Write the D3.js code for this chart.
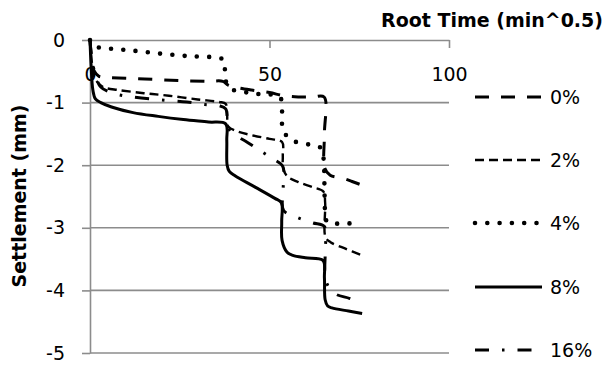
<!DOCTYPE html>
<html>
<head>
<meta charset="utf-8">
<script src="https://cdn.jsdelivr.net/npm/d3@7"></script>
<style>
  html, body { margin: 0; padding: 0; background: #fff; }
  svg { display: block; }
  text { font-family: "DejaVu Sans", sans-serif; fill: #000; }
</style>
</head>
<body>
<svg id="chart" width="606" height="365"></svg>
<script>
// ---- data (root time in min^0.5, settlement in mm) ----
const seriesNames = ["0%", "2%", "4%", "8%", "16%"];
const xTicks = [0, 50, 100];
const xTickLabels = ["0", "50", "100"];
const yTicks = [0, -1, -2, -3, -4, -5];
const yTickLabels = ["0", "-1", "-2", "-3", "-4", "-5"];

const s0 = [[0,0],[0.5,-0.3],[1.2,-0.5],[2.5,-0.58],[5,-0.6],[10,-0.61],[18,-0.63],[26,-0.65],[33,-0.66],[37,-0.66],[38.5,-0.72],[41,-0.76],[45,-0.8],[50,-0.84],[54,-0.89],[58,-0.91],[62,-0.91],[65.2,-0.91],[65.3,-1.5],[65.4,-2.05],[66.9,-2.16],[70.5,-2.21],[73,-2.26],[75.8,-2.32]];
const s2 = [[0,0],[0.5,-0.35],[1.2,-0.6],[2.5,-0.7],[4,-0.76],[8,-0.8],[15,-0.85],[22,-0.89],[30,-0.95],[36,-0.99],[37.8,-1.02],[38.2,-1.2],[38.5,-1.38],[41,-1.46],[45,-1.52],[50,-1.58],[53.5,-1.63],[53.7,-1.85],[53.8,-2.05],[55,-2.18],[58,-2.27],[62,-2.35],[65,-2.42],[65.5,-2.6],[65.6,-3.15],[67,-3.23],[71,-3.33],[75.8,-3.44]];
const s4 = [[0,0],[0.8,-0.08],[2.5,-0.12],[6,-0.14],[12,-0.17],[20,-0.22],[28,-0.26],[35,-0.28],[37.3,-0.32],[37.6,-0.5],[38,-0.68],[40,-0.8],[44,-0.84],[48,-0.87],[52,-0.88],[53.3,-0.95],[53.5,-1.2],[53.6,-1.4],[54.6,-1.52],[57,-1.62],[61,-1.67],[64.2,-1.72],[65,-1.87],[65.3,-2.3],[65.5,-2.75],[66,-2.9],[68,-2.93],[72,-2.93],[75.5,-2.93]];
const s8 = [[0,0],[0.3,-0.4],[0.8,-0.8],[1.5,-0.94],[3,-1.0],[6,-1.07],[12,-1.16],[19,-1.22],[26,-1.27],[33,-1.31],[37.8,-1.34],[38.1,-1.6],[38.2,-2.0],[38.8,-2.1],[40.4,-2.17],[46,-2.35],[51.5,-2.53],[53.3,-2.6],[53.4,-2.9],[53.5,-3.2],[54.9,-3.39],[56.5,-3.44],[60,-3.48],[64.9,-3.52],[65.3,-3.8],[65.5,-4.15],[66.2,-4.25],[67.4,-4.28],[72,-4.33],[75.8,-4.37]];
const s16 = [[0,0],[0.5,-0.3],[1.5,-0.55],[3,-0.75],[7,-0.86],[12,-0.91],[20,-0.96],[27,-0.99],[32,-1.03],[36,-1.05],[37.8,-1.1],[38.3,-1.3],[39,-1.45],[44,-1.64],[48,-1.79],[51,-1.9],[53.7,-2.02],[53.8,-2.4],[53.9,-2.72],[57.5,-2.83],[62,-2.92],[65.3,-2.98],[65.5,-3.4],[65.7,-3.85],[68.2,-4.05],[72.4,-4.13],[75.8,-4.22]];
const seriesData = [s0, s2, s4, s8, s16];

// ---- styles ----
const styles = [
  { dash: "14,12", width: 3, cap: "butt" },
  { dash: "9,5", width: 2.4, cap: "butt" },
  { dash: "0,12.3", width: 4.6, cap: "round" },
  { dash: null, width: 3, cap: "butt" },
  { dash: "14,13,2.5,13", width: 3, cap: "butt" }
];

const svg = d3.select("#chart");
const x = d3.scaleLinear().domain([0, 100]).range([90, 449]);
const y = d3.scaleLinear().domain([0, -5]).range([40, 353]);
const gridColor = "#8c8c8c";

// gridlines
svg.append("g").selectAll("line").data(yTicks.slice(1)).join("line")
  .attr("x1", x(0)).attr("x2", x(100))
  .attr("y1", d => y(d)).attr("y2", d => y(d))
  .attr("stroke", gridColor).attr("stroke-width", 1.6);

// y axis
const yAxis = d3.axisLeft(y).tickValues(yTicks)
  .tickFormat((d, i) => yTickLabels[i]).tickSize(8).tickSizeOuter(0).tickPadding(17);
const gy = svg.append("g").attr("transform", `translate(${x(0)},0)`).call(yAxis);
gy.selectAll("path,line").attr("stroke", gridColor).attr("stroke-width", 1.6);
gy.selectAll("text").style("font-size", "19px").style("font-family", "DejaVu Sans").attr("fill", "#000");

// x axis (at settlement 0, labels below)
const xAxis = d3.axisBottom(x).tickValues(xTicks)
  .tickFormat((d, i) => xTickLabels[i]).tickSize(8).tickSizeOuter(0).tickPadding(20);
const gx = svg.append("g").attr("transform", `translate(0,${y(0)})`).call(xAxis);
gx.selectAll("path,line").attr("stroke", gridColor).attr("stroke-width", 1.6);
gx.selectAll("text").style("font-size", "19px").style("font-family", "DejaVu Sans").attr("fill", "#000");

// series
const line = d3.line().x(d => x(d[0])).y(d => y(d[1])).curve(d3.curveCatmullRom.alpha(0.5));
seriesData.forEach((data, i) => {
  const st = styles[i];
  svg.append("path").datum(data)
    .attr("d", line)
    .attr("fill", "none")
    .attr("stroke", "#000")
    .attr("stroke-width", st.width)
    .attr("stroke-linecap", st.cap)
    .attr("stroke-linejoin", "round")
    .attr("stroke-dasharray", st.dash);
});

// legend
const legendY = [97, 160, 223, 287, 350];
seriesNames.forEach((name, i) => {
  const st = styles[i];
  svg.append("line")
    .attr("x1", 475).attr("x2", i === 2 ? 540 : 542)
    .attr("y1", legendY[i]).attr("y2", legendY[i])
    .attr("stroke", "#000").attr("stroke-width", st.width)
    .attr("stroke-linecap", st.cap)
    .attr("stroke-dasharray", st.dash);
  svg.append("text").attr("x", 550).attr("y", legendY[i] + 7)
    .style("font-size", "19px").text(name);
});

// axis titles
svg.append("text").attr("x", 603).attr("y", 27)
  .attr("text-anchor", "end").style("font-size", "19px").style("font-weight", "bold")
  .text("Root Time (min^0.5)");
svg.append("text").attr("transform", "translate(26,196) rotate(-90)")
  .attr("text-anchor", "middle").style("font-size", "19px").style("font-weight", "bold")
  .text("Settlement (mm)");
</script>
</body>
</html>
